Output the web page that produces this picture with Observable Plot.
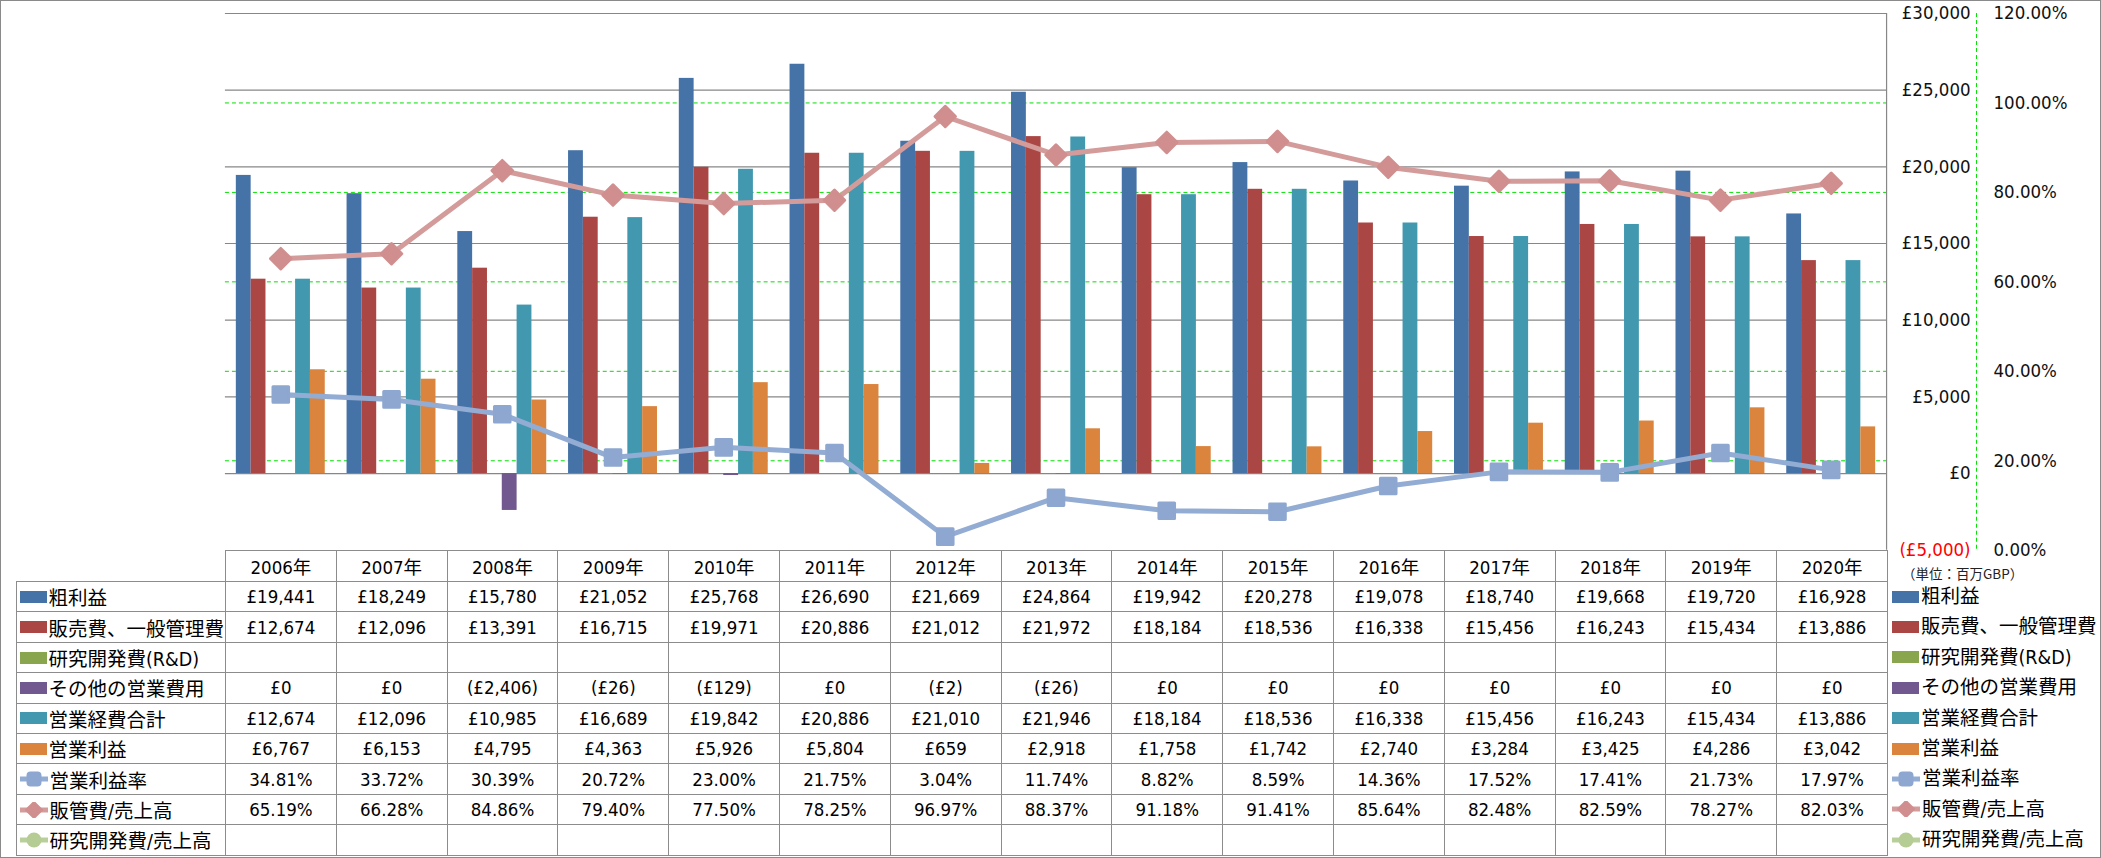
<!DOCTYPE html>
<html><head><meta charset="utf-8">
<script src="https://cdn.jsdelivr.net/npm/d3@7"></script>
<script src="https://cdn.jsdelivr.net/npm/@observablehq/plot@0.6"></script>
<style>
body{margin:0;background:#fff;}
#chart{position:relative;width:2101px;height:858px;box-sizing:border-box;border:1px solid #8a8a8a;overflow:hidden;
  font-family:"DejaVu Sans Condensed","Liberation Sans Narrow","Noto Sans CJK JP",sans-serif;color:#000;}
.layer{position:absolute;left:-1px;top:-1px;}
.layer svg{overflow:visible;}
table.dt{position:absolute;left:15.5px;top:549.5px;border-collapse:collapse;table-layout:fixed;font-size:18.5px;}
table.dt td{border:1px solid #8c8c8c;padding:0;text-align:center;white-space:nowrap;overflow:visible;height:29.4px;}
table.dt tr.hdr td{height:30.6px;}
table.dt td.blank{border:none;}
table.dt td.lab{text-align:left;font-size:19.5px;padding-left:3px;}
.sw{display:inline-block;vertical-align:middle;margin-right:2px;}
.lab span,.leg span{vertical-align:middle;}
.leg{position:absolute;left:1891px;font-size:19.5px;white-space:nowrap;}
.unit{position:absolute;left:1901px;top:564px;font-size:13.5px;line-height:17px;white-space:nowrap;font-family:"Noto Sans CJK JP",sans-serif;color:#222;}
</style>
</head><body>
<div id="chart"></div>
<script>
// ---------- data ----------
const years = ["2006年","2007年","2008年","2009年","2010年","2011年","2012年","2013年","2014年","2015年","2016年","2017年","2018年","2019年","2020年"];
const grossProfit = [19441,18249,15780,21052,25768,26690,21669,24864,19942,20278,19078,18740,19668,19720,16928];
const sga = [12674,12096,13391,16715,19971,20886,21012,21972,18184,18536,16338,15456,16243,15434,13886];
const rnd = [null,null,null,null,null,null,null,null,null,null,null,null,null,null,null];
const otherOpex = [0,0,-2406,-26,-129,0,-2,-26,0,0,0,0,0,0,0];
const totalOpex = [12674,12096,10985,16689,19842,20886,21010,21946,18184,18536,16338,15456,16243,15434,13886];
const operatingIncome = [6767,6153,4795,4363,5926,5804,659,2918,1758,1742,2740,3284,3425,4286,3042];
const operatingMargin = [34.81,33.72,30.39,20.72,23.00,21.75,3.04,11.74,8.82,8.59,14.36,17.52,17.41,21.73,17.97];
const sgaRatio = [65.19,66.28,84.86,79.40,77.50,78.25,96.97,88.37,91.18,91.41,85.64,82.48,82.59,78.27,82.03];
const rndRatio = [null,null,null,null,null,null,null,null,null,null,null,null,null,null,null];
const poundTicks = [-5000,0,5000,10000,15000,20000,25000,30000];
const pctTicks = [0,20,40,60,80,100,120];
const unitLabel = "（単位：百万GBP）";

const series = [
  {name:"粗利益", kind:"bar", color:"#4572A7", values:grossProfit, fmt:"pound"},
  {name:"販売費、一般管理費", kind:"bar", color:"#AA4643", values:sga, fmt:"pound"},
  {name:"研究開発費(R&D)", kind:"bar", color:"#89A54E", values:rnd, fmt:"pound"},
  {name:"その他の営業費用", kind:"bar", color:"#71588F", values:otherOpex, fmt:"pound"},
  {name:"営業経費合計", kind:"bar", color:"#4198AF", values:totalOpex, fmt:"pound"},
  {name:"営業利益", kind:"bar", color:"#DB843D", values:operatingIncome, fmt:"pound"},
  {name:"営業利益率", kind:"square", color:"#8DA7D0", line:"#93ACD3", values:operatingMargin, fmt:"pct"},
  {name:"販管費/売上高", kind:"diamond", color:"#D08E8E", line:"#D49B9B", values:sgaRatio, fmt:"pct"},
  {name:"研究開発費/売上高", kind:"circle", color:"#B5CC95", line:"#B9CF9B", values:rndRatio, fmt:"pct"}
];

// ---------- layout ----------
const W = 2101, H = 560, mT = 13, mB = 10, mL = 225, mR = 214;
const pIn = 0.197, pOut = pIn/2;
const step = (W - mL - mR) / years.length;
const bw6 = step * (1 - pIn) / 6;
const xOpt = {type:"band", domain:years, paddingInner:pIn, paddingOuter:pOut, round:false, axis:null};
const base = {width:W, height:H, marginTop:mT, marginBottom:mB, marginLeft:mL, marginRight:mR,
  style:{background:"transparent", fontFamily:"'DejaVu Sans Condensed','Liberation Sans Narrow','Noto Sans CJK JP',sans-serif", fontSize:"18px", overflow:"visible"}};

const fmtN = d3.format(",");
const pound = v => v == null ? "" : (v < 0 ? `(£${fmtN(-v)})` : `£${fmtN(v)}`);
const pct = v => v == null ? "" : v.toFixed(2) + "%";

const chart = document.getElementById("chart");
function addLayer(svg){ const d = document.createElement("div"); d.className = "layer"; d.appendChild(svg); chart.appendChild(d); }

// Layer 1: percent grid, axis lines and percent labels (x here is the frame's 0..1 extent)
addLayer(Plot.plot({...base, x:{type:"linear", domain:[0,1], axis:null}, y:{domain:[0,120], axis:null},
  marks:[
    Plot.ruleY(pctTicks.filter(d => d > 0 && d < 120), {stroke:"#00E000", strokeWidth:1, strokeDasharray:"4,3"}),
    Plot.ruleX([1], {stroke:"#878787", strokeWidth:1.2}),
    Plot.ruleX([1], {stroke:"#00E000", strokeWidth:1, strokeDasharray:"4,3", dx:90}),
    Plot.text(pctTicks, {y:d => d, text:pct, frameAnchor:"right", textAnchor:"start", dx:107, fill:"#111", fontSize:18.5})
  ]}));

// Layer 2: bars + pound axis
const barMarks = series.filter(s => s.kind === "bar").map((s, i) =>
  Plot.barY(years.map((y, j) => ({year:y, v:s.values[j]})).filter(d => d.v != null && d.v !== 0),
    {x:"year", y:"v", fill:s.color, insetLeft:i*bw6, insetRight:(5-i)*bw6}));
addLayer(Plot.plot({...base, x:xOpt, y:{domain:[-5000,30000], axis:null},
  marks:[
    Plot.ruleY(poundTicks.filter(d => d > -5000), {stroke:"#878787", strokeWidth:1.2}),
    ...barMarks,
    Plot.text(poundTicks.filter(d => d >= 0), {y:d => d, text:pound, frameAnchor:"right", textAnchor:"end", dx:84, fill:"#111", fontSize:18.5}),
    Plot.text(poundTicks.filter(d => d < 0), {y:d => d, text:pound, frameAnchor:"right", textAnchor:"end", dx:84, fill:"#FF0000", fontSize:18.5})
  ]}));

// Layer 3: ratio lines
const symbolOf = {square:"square", diamond:"diamond2", circle:"circle"};
const rOf = {square:8.8, diamond:9.2, circle:8};
const lineMarks = [];
series.filter(s => s.kind !== "bar").forEach(s => {
  const data = years.map((y, j) => ({year:y, v:s.values[j]})).filter(d => d.v != null);
  lineMarks.push(Plot.line(data, {x:"year", y:"v", stroke:s.line, strokeWidth:5}));
  lineMarks.push(Plot.dot(data, {x:"year", y:"v", symbol:symbolOf[s.kind], r:rOf[s.kind], fill:s.color, stroke:s.color, strokeWidth:3, strokeLinejoin:"round"}));
});
addLayer(Plot.plot({...base, x:xOpt, y:{domain:[0,120], axis:null}, marks:lineMarks}));

// ---------- data table + legend ----------
function swatch(s){
  if (s.kind === "bar") return `<svg class="sw" width="27" height="14"><rect x="0" y="1" width="27" height="12" fill="${s.color}"/></svg>`;
  let m;
  if (s.kind === "square") m = `<rect x="7.5" y="1.5" width="13" height="13" rx="3" fill="${s.color}" stroke="${s.color}" stroke-width="2"/>`;
  else if (s.kind === "diamond") m = `<path d="M14 0 L22 8 L14 16 L6 8 Z" fill="${s.color}" stroke="${s.color}" stroke-width="2" stroke-linejoin="round"/>`;
  else m = `<circle cx="14" cy="8" r="7.5" fill="${s.color}"/>`;
  return `<svg class="sw" width="28" height="16"><line x1="0" y1="8" x2="28" y2="8" stroke="${s.line}" stroke-width="5"/>${m}</svg>`;
}
const firstCol = 209.5;
let html = `<table class="dt" style="width:${firstCol + step*years.length}px"><colgroup><col style="width:${firstCol}px">${years.map(() => `<col style="width:${step}px">`).join("")}</colgroup>`;
html += `<tr class="hdr"><td class="blank"></td>${years.map(y => `<td>${y}</td>`).join("")}</tr>`;
series.forEach(s => {
  const f = s.fmt === "pound" ? pound : pct;
  html += `<tr><td class="lab">${swatch(s)}<span>${s.name}</span></td>${s.values.map(v => `<td>${f(v)}</td>`).join("")}</tr>`;
});
html += `</table>`;
const tdiv = document.createElement("div");
tdiv.innerHTML = html;
tdiv.style.cssText = "position:absolute;left:-1px;top:-1px;";
chart.appendChild(tdiv);

const u = document.createElement("div");
u.className = "unit"; u.textContent = unitLabel; chart.appendChild(u);

series.forEach((s, i) => {
  const d = document.createElement("div");
  d.className = "leg";
  d.style.top = (580 + i * 30.4) + "px";
  d.style.height = "30px"; d.style.lineHeight = "30px";
  d.innerHTML = `${swatch(s)}<span>${s.name}</span>`;
  chart.appendChild(d);
});
</script>
</body></html>
